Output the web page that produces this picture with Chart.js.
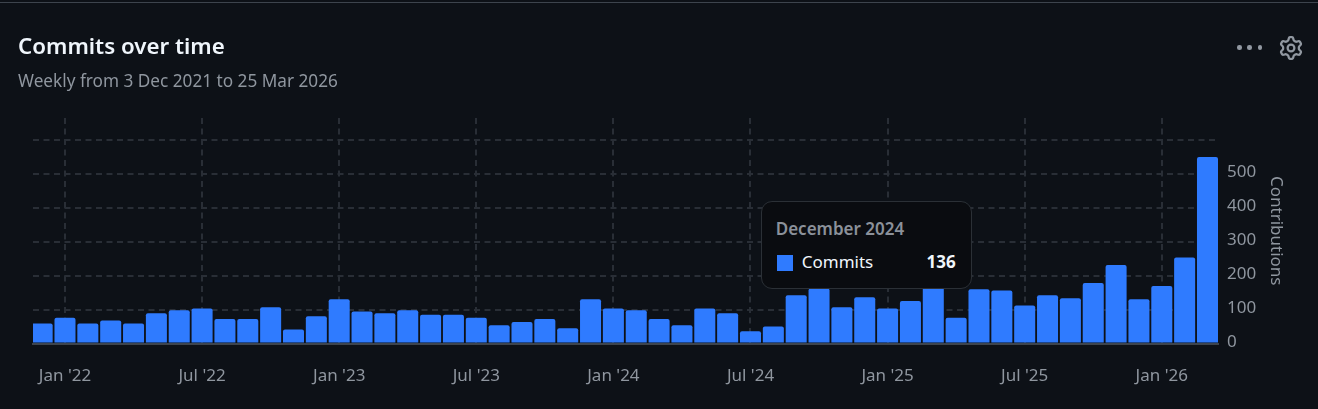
<!DOCTYPE html>
<html>
<head>
<meta charset="utf-8">
<title>Commits over time</title>
<script src="https://cdn.jsdelivr.net/npm/chart.js@4"></script>
<style>
html,body{margin:0;padding:0;background:#0d1117;overflow:hidden}
#wrap{position:relative;width:1318px;height:409px;background:#0d1117;font-family:"Noto Sans",sans-serif}
#topline{position:absolute;left:0;top:2px;width:1318px;height:1px;background:#3d444d}
canvas{position:absolute;left:0;top:0}
#title{position:absolute;left:18px;top:31px;font-size:22.3px;line-height:30px;font-weight:600;color:#f0f6fc;white-space:nowrap}
#sub{position:absolute;left:18px;top:69px;font-size:17.2px;line-height:24px;color:#8f969f;white-space:nowrap}
#dots{position:absolute;left:1237px;top:45px;width:25px;height:5px;display:flex;justify-content:space-between}
#dots i{display:block;width:4.5px;height:4.5px;border-radius:50%;background:#9198a1}
#gear{position:absolute;left:1279px;top:36px;width:24px;height:24px;fill:#9198a1}
#tip{position:absolute;top:201px;width:209px;height:86px;box-sizing:content-box;background:#0a0c10;border:1.5px solid #2b3036;border-radius:11px}
#tipT{position:absolute;left:14px;top:15px;font-size:17px;line-height:24px;font-weight:600;color:#8b919a;white-space:nowrap}
#tipS{position:absolute;left:15px;top:53px;width:16px;height:16px;background:#2f7bff}
#tipL{position:absolute;left:40px;top:48px;font-size:17px;line-height:24px;color:#f0f6fc;white-space:nowrap}
#tipV{position:absolute;right:15px;top:48px;font-size:17px;line-height:24px;font-weight:700;color:#f0f6fc;white-space:nowrap}
</style>
</head>
<body>
<div id="wrap">
  <canvas id="c" width="1318" height="409"></canvas>
  <div id="topline"></div>
  <div id="title">Commits over time</div>
  <div id="sub">Weekly from 3 Dec 2021 to 25 Mar 2026</div>
  <div id="dots"><i></i><i></i><i></i></div>
  <svg id="gear" viewBox="0 0 16 16"><path d="M8 0a8.2 8.2 0 0 1 .701.031C9.444.095 9.99.645 10.16 1.29l.288 1.107c.018.066.079.158.212.224.231.114.454.243.668.386.123.082.233.09.299.071l1.103-.303c.644-.176 1.392.021 1.82.63.27.385.506.792.704 1.218.315.675.111 1.422-.364 1.891l-.814.806c-.049.048-.098.147-.088.294.016.257.016.515 0 .772-.01.147.038.246.088.294l.814.806c.475.469.679 1.216.364 1.891a7.977 7.977 0 0 1-.704 1.217c-.428.61-1.176.807-1.82.63l-1.102-.302c-.067-.019-.177-.011-.3.071a5.909 5.909 0 0 1-.668.386c-.133.066-.194.158-.211.224l-.29 1.106c-.168.646-.715 1.196-1.458 1.26a8.006 8.006 0 0 1-1.402 0c-.743-.064-1.289-.614-1.458-1.26l-.289-1.106c-.018-.066-.079-.158-.212-.224a5.738 5.738 0 0 1-.668-.386c-.123-.082-.233-.09-.299-.071l-1.103.303c-.644.176-1.392-.021-1.82-.63a8.12 8.12 0 0 1-.704-1.218c-.315-.675-.111-1.422.363-1.891l.815-.806c.05-.048.098-.147.088-.294a6.214 6.214 0 0 1 0-.772c.01-.147-.038-.246-.088-.294l-.815-.806C.635 6.045.431 5.298.746 4.623a7.92 7.92 0 0 1 .704-1.217c.428-.61 1.176-.807 1.82-.63l1.102.302c.067.019.177.011.3-.071.214-.143.437-.272.668-.386.133-.066.194-.158.211-.224l.29-1.106C6.009.645 6.556.095 7.299.03 7.53.01 7.764 0 8 0Zm-.571 1.525c-.036.003-.108.036-.137.146l-.289 1.105c-.147.561-.549.967-.998 1.189-.173.086-.34.183-.5.29-.417.278-.97.423-1.529.27l-1.103-.303c-.109-.03-.175.016-.195.045-.22.312-.412.644-.573.99-.014.031-.021.11.059.19l.815.806c.411.406.562.957.53 1.456a4.709 4.709 0 0 0 0 .582c.032.499-.119 1.05-.53 1.456l-.815.806c-.081.08-.073.159-.059.19.162.346.353.677.573.989.02.03.085.076.195.046l1.102-.303c.56-.153 1.113-.008 1.53.27.161.107.328.204.501.29.447.222.85.629.997 1.189l.289 1.105c.029.109.101.143.137.146a6.6 6.6 0 0 0 1.142 0c.036-.003.108-.036.137-.146l.289-1.105c.147-.561.549-.967.998-1.189.173-.086.34-.183.5-.29.417-.278.97-.423 1.529-.27l1.103.303c.109.029.175-.016.195-.045.22-.313.411-.644.573-.99.014-.031.021-.11-.059-.19l-.815-.806c-.411-.406-.562-.957-.53-1.456a4.709 4.709 0 0 0 0-.582c-.032-.499.119-1.05.53-1.456l.815-.806c.081-.08.073-.159.059-.19a6.464 6.464 0 0 0-.573-.989c-.02-.03-.085-.076-.195-.046l-1.102.303c-.56.153-1.113.008-1.53-.27a4.44 4.44 0 0 0-.501-.29c-.447-.222-.85-.629-.997-1.189l-.289-1.105c-.029-.11-.101-.143-.137-.146a6.6 6.6 0 0 0-1.142 0ZM11 8a3 3 0 1 1-6 0 3 3 0 0 1 6 0ZM9.5 8a1.5 1.5 0 1 0-3.001.001A1.5 1.5 0 0 0 9.5 8Z"/></svg>
  <div id="tip">
    <div id="tipT"></div>
    <div id="tipS"></div>
    <div id="tipL"></div>
    <div id="tipV"></div>
  </div>
</div>
<script>
const months = ["December 2021","January 2022","February 2022","March 2022","April 2022","May 2022","June 2022","July 2022","August 2022","September 2022","October 2022","November 2022","December 2022","January 2023","February 2023","March 2023","April 2023","May 2023","June 2023","July 2023","August 2023","September 2023","October 2023","November 2023","December 2023","January 2024","February 2024","March 2024","April 2024","May 2024","June 2024","July 2024","August 2024","September 2024","October 2024","November 2024","December 2024","January 2025","February 2025","March 2025","April 2025","May 2025","June 2025","July 2025","August 2025","September 2025","October 2025","November 2025","December 2025","January 2026","February 2026","March 2026"];
const commits = [59,76,59,68,59,89,98,103,72,72,107,41,80,130,94,89,98,85,85,76,54,63,72,45,130,103,98,72,54,103,89,36,50,142,162,107,136,103,125,165,76,160,156,112,142,133,178,231,130,169,253,549];
const xTickIndex = [1,7,13,19,25,31,37,43,49];
const xTickLabels = ["Jan '22","Jul '22","Jan '23","Jul '23","Jan '24","Jul '24","Jan '25","Jul '25","Jan '26"];
const yTicks = [0,100,200,300,400,500,600];
const yTickLabels = ["0","100","200","300","400","500",""];
const seriesName = "Commits";
const highlighted = "December 2024";

const FONT = '"Noto Sans", sans-serif';
const TICK = '#8f969f';
const GRID = '#292e36';

const chart = new Chart(document.getElementById('c'), {
  type: 'bar',
  data: {
    datasets: [{
      label: seriesName,
      data: commits.map((v, i) => ({x: i, y: v})),
      backgroundColor: '#2f7bff',
      borderRadius: {topLeft: 2, topRight: 2, bottomLeft: 0, bottomRight: 0},
      borderSkipped: false,
      barPercentage: 0.92,
      categoryPercentage: 1
    }]
  },
  options: {
    responsive: false,
    animation: false,
    events: [],
    layout: {padding: {left: 33, top: 118, right: 0, bottom: 0}},
    plugins: {legend: {display: false}, tooltip: {enabled: false}},
    scales: {
      x: {
        type: 'linear',
        offset: false,
        min: -0.4,
        max: 51.46,
        afterBuildTicks: s => { s.ticks = xTickIndex.map(v => ({value: v})); },
        afterFit: s => { s.height = 65.5; },
        ticks: {
          autoSkip: false, maxRotation: 0, padding: 22, color: TICK,
          font: {family: FONT, size: 17},
          callback: v => xTickLabels[xTickIndex.indexOf(v)] ?? ''
        },
        grid: {offset: false, color: GRID, lineWidth: 2, drawTicks: false},
        border: {color: '#3d444d', width: 2, dash: [6, 4.5]}
      },
      y: {
        position: 'right',
        min: 0,
        max: 664,
        afterBuildTicks: s => { s.ticks = yTicks.map(v => ({value: v})); },
        afterFit: s => { s.width = 100; },
        ticks: {
          padding: 9, color: TICK, labelOffset: -1.5,
          font: {family: FONT, size: 17},
          callback: v => yTickLabels[yTicks.indexOf(v)] ?? ''
        },
        grid: {color: GRID, lineWidth: 2, drawTicks: false},
        border: {display: false, dash: [6, 4.5]},
        title: {
          display: true, text: 'Contributions', color: TICK,
          font: {family: FONT, size: 17},
          padding: {top: 32, bottom: 0}
        }
      }
    }
  }
});

const hi = months.indexOf(highlighted);
const tip = document.getElementById('tip');
tip.style.left = (chart.scales.x.getPixelForValue(hi) - 104) + 'px';
document.getElementById('tipT').textContent = months[hi];
document.getElementById('tipL').textContent = seriesName;
document.getElementById('tipV').textContent = commits[hi];
</script>
</body>
</html>
